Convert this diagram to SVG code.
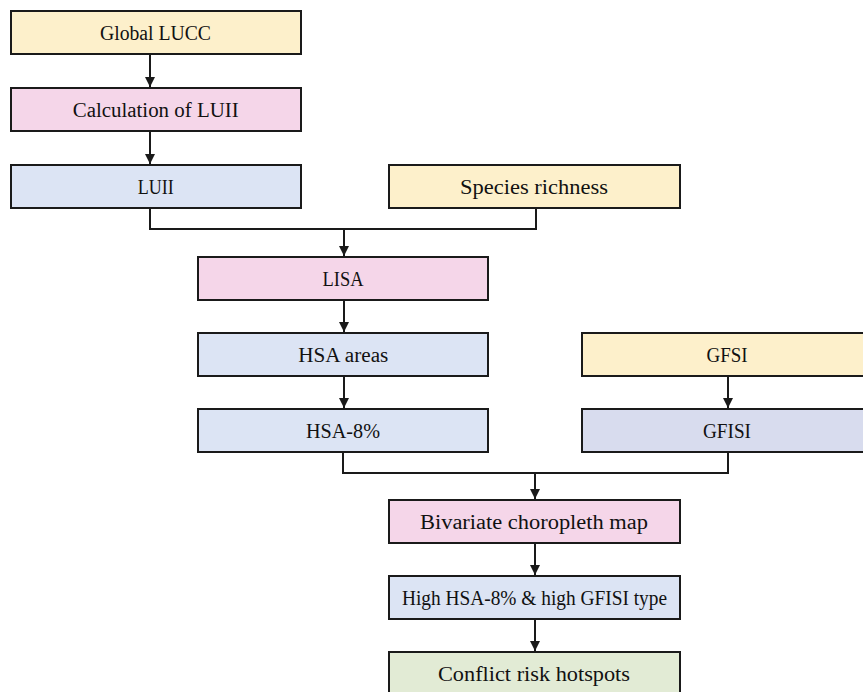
<svg xmlns="http://www.w3.org/2000/svg" width="863" height="692" viewBox="0 0 863 692">
<defs>
<style>
.box{stroke:#1a1a1a;stroke-width:2}
.y{fill:#fdf0cb}.p{fill:#f5d6e9}.b{fill:#dce4f4}.b2{fill:#d8dcee}.g{fill:#e2ebd5}
text{font-family:"Liberation Serif","DejaVu Serif",serif;font-size:20px;fill:#111;text-anchor:middle}
.c{fill:none;stroke:#1a1a1a;stroke-width:2}
</style>
<marker id="ah" viewBox="0 0 10 10" refX="10" refY="5" markerWidth="5" markerHeight="5" markerUnits="strokeWidth" orient="auto">
<path d="M0,0 L10,5 L0,10 z" fill="#1a1a1a"/>
</marker>
</defs>
<rect width="863" height="692" fill="#fff"/>
<g id="connectors">
<path class="c" d="M150,54 V87" marker-end="url(#ah)"/>
<path class="c" d="M150,131 V164" marker-end="url(#ah)"/>
<path class="c" d="M150,208 V229 H536 V208"/>
<path class="c" d="M344,229 V256" marker-end="url(#ah)"/>
<path class="c" d="M344,300 V332" marker-end="url(#ah)"/>
<path class="c" d="M344,376 V408" marker-end="url(#ah)"/>
<path class="c" d="M728,376 V408" marker-end="url(#ah)"/>
<path class="c" d="M343,452 V473 H728 V452"/>
<path class="c" d="M535,473 V499" marker-end="url(#ah)"/>
<path class="c" d="M535,543 V575" marker-end="url(#ah)"/>
<path class="c" d="M535,619 V651" marker-end="url(#ah)"/>
</g>
<g id="global-lucc"><rect class="box y" x="11" y="11" width="290" height="43"/><text x="155.5" y="40" textLength="111" lengthAdjust="spacingAndGlyphs">Global LUCC</text></g>
<g id="calc-luii"><rect class="box p" x="11" y="88" width="290" height="43"/><text x="155.7" y="117" textLength="166" lengthAdjust="spacingAndGlyphs">Calculation of LUII</text></g>
<g id="luii"><rect class="box b" x="11" y="165" width="290" height="43"/><text x="155.8" y="194" textLength="36" lengthAdjust="spacingAndGlyphs">LUII</text></g>
<g id="species"><rect class="box y" x="389" y="165" width="291" height="43"/><text x="534" y="194" textLength="148" lengthAdjust="spacingAndGlyphs">Species richness</text></g>
<g id="lisa"><rect class="box p" x="198" y="257" width="290" height="43"/><text x="343" y="286" textLength="41" lengthAdjust="spacingAndGlyphs">LISA</text></g>
<g id="hsa-areas"><rect class="box b" x="198" y="333" width="290" height="43"/><text x="343.3" y="362" textLength="90" lengthAdjust="spacingAndGlyphs">HSA areas</text></g>
<g id="hsa-8"><rect class="box b" x="198" y="409" width="290" height="43"/><text x="343" y="438" textLength="74" lengthAdjust="spacingAndGlyphs">HSA-8%</text></g>
<g id="gfsi"><rect class="box y" x="582" y="333" width="292" height="43"/><text x="727" y="362" textLength="41" lengthAdjust="spacingAndGlyphs">GFSI</text></g>
<g id="gfisi"><rect class="box b2" x="582" y="409" width="292" height="43"/><text x="727" y="438" textLength="48" lengthAdjust="spacingAndGlyphs">GFISI</text></g>
<g id="bivariate"><rect class="box p" x="389" y="500" width="291" height="43"/><text x="534" y="529" textLength="228" lengthAdjust="spacingAndGlyphs">Bivariate choropleth map</text></g>
<g id="high-type"><rect class="box b" x="389" y="576" width="291" height="43"/><text x="534.5" y="605" textLength="265" lengthAdjust="spacingAndGlyphs">High HSA-8% &amp; high GFISI type</text></g>
<g id="hotspots"><rect class="box g" x="389" y="652" width="291" height="45"/><text x="534" y="681" textLength="192" lengthAdjust="spacingAndGlyphs">Conflict risk hotspots</text></g>
</svg>
